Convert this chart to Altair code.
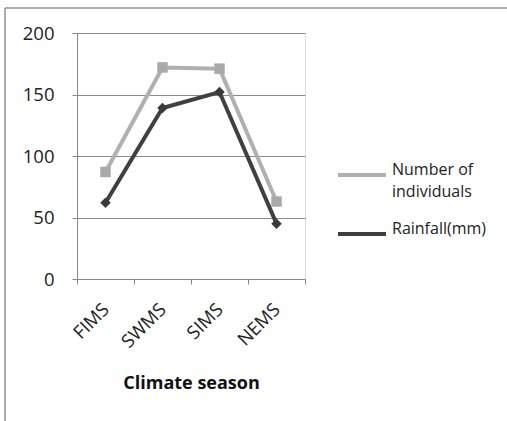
import altair as alt
import pandas as pd

# Seasonal data
seasons = ["FIMS", "SWMS", "SIMS", "NEMS"]
individuals = [87, 172, 171, 63]
rainfall = [62, 139, 152, 45]
series_names = ["Number of individuals", "Rainfall(mm)"]
series_colors = ["#b0b0b0", "#404040"]
marker_colors = ["#a9a9a9", "#3a3a3a"]
series_shapes = ["square", "diamond"]

df = pd.DataFrame({
    "season": seasons * 2,
    "value": individuals + rainfall,
    "series": [series_names[0]] * len(seasons) + [series_names[1]] * len(seasons),
})
# separate field for markers so their scales stay out of the line legend
df["marker"] = df["series"]

FONT = "Open Sans"

x_enc = alt.X(
    "season:N",
    sort=seasons,
    scale=alt.Scale(paddingInner=0, paddingOuter=0),
    axis=alt.Axis(
        title="Climate season",
        titleFont=FONT, titleFontSize=18, titleFontWeight="bold", titleColor="#111111",
        titlePadding=24,
        labelFont=FONT, labelFontSize=18.5, labelColor="#222222",
        labelAngle=-45, labelAlign="right", labelBaseline="middle",
        labelPadding=22,
        tickBand="extent", tickSize=5, tickColor="#888888",
        domainColor="#888888", grid=False,
    ),
)
y_enc = alt.Y(
    "value:Q",
    scale=alt.Scale(domain=[0, 200]),
    axis=alt.Axis(
        title=None, values=[0, 50, 100, 150, 200],
        labelFont=FONT, labelFontSize=18.5, labelColor="#222222", labelPadding=18,
        tickSize=5, tickColor="#888888", domainColor="#888888",
        grid=True, gridColor="#8a8a8a", gridWidth=1,
    ),
)

lines = alt.Chart(df).mark_line(strokeWidth=4).encode(
    x=x_enc,
    y=y_enc,
    color=alt.Color(
        "series:N",
        scale=alt.Scale(domain=series_names, range=series_colors),
        legend=alt.Legend(
            title=None, orient="none", legendX=259, legendY=116,
            symbolType="stroke", symbolSize=2304, symbolStrokeWidth=4,
            labelFont=FONT, labelFontSize=16, labelColor="#222222",
            labelBaseline="alphabetic", labelOffset=4, rowPadding=8,
            labelLimit=200,
            labelExpr="datum.label == 'Number of individuals' ? ['Number of', 'individuals'] : datum.label",
        ),
    ),
)

# marker scales take their (alphabetical) domain from the data
points = alt.Chart(df).mark_point(filled=True, size=110, opacity=1).encode(
    x=alt.X("season:N", sort=seasons),
    y="value:Q",
    fill=alt.Fill("marker:N", scale=alt.Scale(range=marker_colors), legend=None),
    shape=alt.Shape("marker:N", scale=alt.Scale(range=series_shapes), legend=None),
)

# outer frame of the figure
one = pd.DataFrame({"k": [0]})
frame_top = alt.Chart(one).mark_rule(color="#909090", strokeWidth=1.5).encode(
    x=alt.value(-72), x2=alt.value(430), y=alt.value(-25)
)
frame_left = alt.Chart(one).mark_rule(color="#909090", strokeWidth=1.5).encode(
    x=alt.value(-72), y=alt.value(-25), y2=alt.value(400)
)

chart = alt.layer(frame_top, frame_left, lines, points).properties(
    width=228, height=246,
    autosize=alt.AutoSizeParams(type="none"),
    padding={"left": 77, "top": 33, "right": 202, "bottom": 142},
    background="white",
).configure_view(stroke=None).configure(style={"guide-label": {"lineHeight": 22}})

chart.save("out.html", embed_options={"renderer": "svg", "actions": False})
